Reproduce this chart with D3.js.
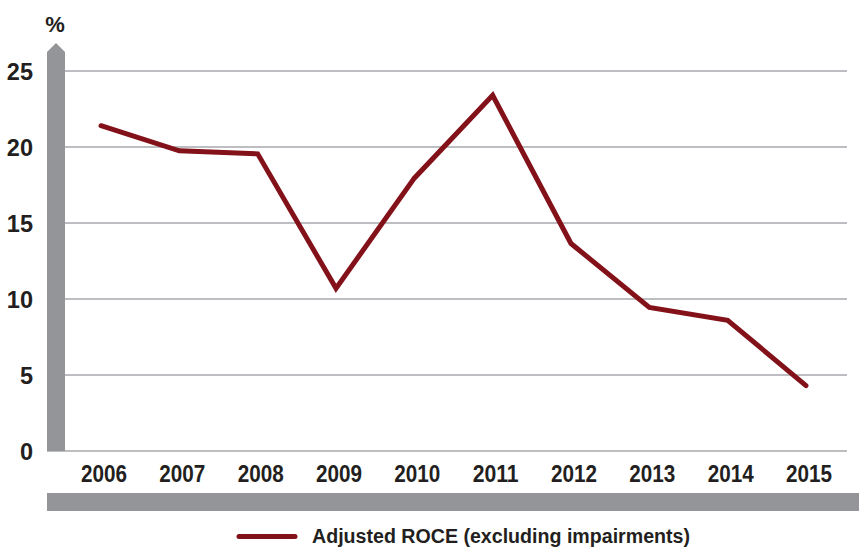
<!DOCTYPE html>
<html><head><meta charset="utf-8">
<script src="https://cdn.jsdelivr.net/npm/d3@7"></script>
<style>
body{margin:0;background:#fff;}
text{font-family:"Liberation Sans Narrow","Arial Narrow","Liberation Sans",sans-serif;font-weight:bold;fill:#231f20;}
</style></head>
<body>
<svg id="c" width="859" height="547"></svg>
<script>
const years = ["2006","2007","2008","2009","2010","2011","2012","2013","2014","2015"];
const roce = [21.4, 19.75, 19.55, 10.7, 17.95, 23.4, 13.65, 9.45, 8.6, 4.3];
const yTicks = [0, 5, 10, 15, 20, 25];
const seriesName = "Adjusted ROCE (excluding impairments)";

const svg = d3.select("#c");
const x = d3.scalePoint().domain(years).range([101, 806]);
const y = d3.scaleLinear().domain([0, 25]).range([451, 71]);

// gridlines
svg.append("g").selectAll("line").data(yTicks.filter(d => d > 0)).join("line")
  .attr("x1", 65).attr("x2", 847)
  .attr("y1", d => y(d)).attr("y2", d => y(d))
  .attr("stroke", "#a7a9ac").attr("stroke-width", 1.4);
// baseline
svg.append("line").attr("x1", 47).attr("x2", 847).attr("y1", y(0)).attr("y2", y(0))
  .attr("stroke", "#bcbec0").attr("stroke-width", 2);

// y axis bar with arrow
svg.append("path")
  .attr("d", `M47,${y(0)} L47,52 L56,43 L65,52 L65,${y(0)} Z`)
  .attr("fill", "#939598");

// bottom bar
svg.append("rect").attr("x", 47).attr("y", 493).attr("width", 812).attr("height", 18)
  .attr("fill", "#939598");

// y labels
svg.append("g").selectAll("text").data(yTicks).join("text")
  .attr("x", 33).attr("y", d => y(d) + 8.5)
  .attr("text-anchor", "end").attr("font-size", 23.5)
  .text(d => d);
svg.append("text").attr("x", 55).attr("y", 31.5).attr("text-anchor", "middle")
  .attr("font-size", 22).text("%");

// x labels
svg.append("g").selectAll("text").data(years).join("text")
  .attr("x", d => x(d) + 3).attr("y", 481.5)
  .attr("text-anchor", "middle").attr("font-size", 23)
  .attr("textLength", 46).attr("lengthAdjust", "spacingAndGlyphs")
  .text(d => d);

// line
const line = d3.line().x((d, i) => x(years[i])).y(d => y(d));
svg.append("path").datum(roce)
  .attr("d", line)
  .attr("fill", "none").attr("stroke", "#831119").attr("stroke-width", 5)
  .attr("stroke-linecap", "round").attr("stroke-linejoin", "miter");

// legend
svg.append("line").attr("x1", 239).attr("x2", 295).attr("y1", 536.5).attr("y2", 536.5)
  .attr("stroke", "#831119").attr("stroke-width", 5).attr("stroke-linecap", "round");
svg.append("text").attr("x", 312).attr("y", 543).attr("font-size", 19.5)
  .attr("textLength", 378).attr("lengthAdjust", "spacingAndGlyphs")
  .text(seriesName);
</script>
</body></html>
